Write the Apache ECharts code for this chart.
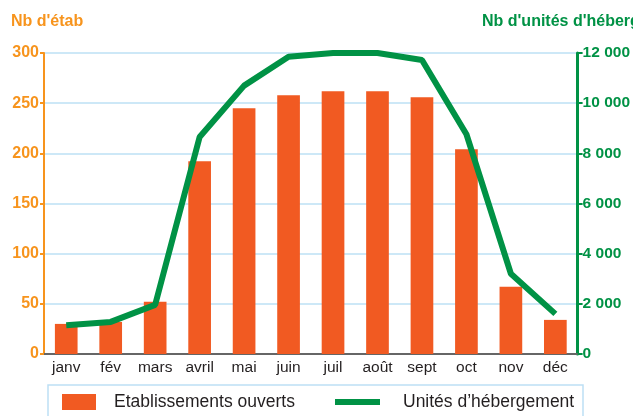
<!DOCTYPE html>
<html><head><meta charset="utf-8">
<script src="https://cdn.jsdelivr.net/npm/echarts@6/dist/echarts.min.js"></script>
<style>html,body{margin:0;padding:0;background:#fff}#c{width:633px;height:416px}</style>
</head><body><div id="c"></div>
<script>
const categories = ['janv','fév','mars','avril','mai','juin','juil','août','sept','oct','nov','déc'];
const etablissements = [30, 32, 52, 192, 245, 258, 262, 262, 256, 204, 67, 34];
const unites = [1150, 1280, 1960, 8650, 10700, 11850, 12000, 12000, 11720, 8760, 3200, 1600];
const leftTicks = [0, 50, 100, 150, 200, 250, 300];
const rightTicks = [0, 2000, 4000, 6000, 8000, 10000, 12000];

const ORANGE = '#F7941D', BAR = '#F15A22', GREEN = '#009245';
const FONT = '"Liberation Sans Narrow", "Liberation Sans", Arial, sans-serif';
const chart = echarts.init(document.getElementById('c'));
chart.setOption({
  animation: false,
  grid: {left: 44, right: 52, top: 53, bottom: 62},
  graphic: [
    {type: 'text', left: 11, top: 14, style: {text: "Nb d'étab", fill: ORANGE, font: 'bold 16px ' + FONT}},
    {type: 'text', left: 482, top: 14, style: {text: "Nb d'unités d'héberg", fill: GREEN, font: 'bold 16px ' + FONT}},
    {type: 'rect', shape: {x: 48, y: 385, width: 535, height: 40}, style: {fill: 'none', stroke: '#BDE0F5', lineWidth: 1.5}}
  ],
  legend: [
    {data: ['Etablissements ouverts'], left: 57, top: 388, itemWidth: 34, itemHeight: 16, icon: 'rect',
     textStyle: {fontFamily: FONT, fontSize: 17.5, color: '#231F20', padding: [0, 0, 0, 13]}},
    {data: ['Unités d’hébergement'], left: 330, top: 388, itemWidth: 45, itemHeight: 6, icon: 'rect',
     textStyle: {fontFamily: FONT, fontSize: 17.5, color: '#231F20', padding: [0, 0, 0, 18]}}
  ],
  xAxis: {
    type: 'category', data: categories,
    axisLine: {lineStyle: {color: '#666', width: 2}},
    axisTick: {show: false},
    axisLabel: {color: '#231F20', fontFamily: FONT, fontSize: 15.5, margin: 6, interval: 0}
  },
  yAxis: [
    {type: 'value', min: 0, max: 300, interval: 50, position: 'left',
     axisLine: {show: true, lineStyle: {color: ORANGE, width: 2}},
     axisTick: {show: true, length: 4, lineStyle: {color: ORANGE, width: 2}},
     axisLabel: {color: ORANGE, fontFamily: FONT, fontSize: 16, fontWeight: 'bold', margin: 5,
       formatter: v => leftTicks.includes(v) ? String(v) : ''},
     splitLine: {lineStyle: {color: '#BDE0F5', width: 1.5}}},
    {type: 'value', min: 0, max: 12000, interval: 2000, position: 'right',
     axisLine: {show: true, lineStyle: {color: GREEN, width: 3}},
     axisTick: {show: true, length: 5, lineStyle: {color: GREEN, width: 2}},
     axisLabel: {color: GREEN, fontFamily: FONT, fontSize: 15.5, fontWeight: 'bold', margin: 5,
       formatter: v => rightTicks.includes(v) ? (v >= 1000 ? Math.floor(v/1000) + ' 000' : String(v)) : ''},
     splitLine: {show: false}}
  ],
  series: [
    {name: 'Etablissements ouverts', type: 'bar', data: etablissements, barWidth: '51%',
     itemStyle: {color: BAR}, yAxisIndex: 0},
    {name: 'Unités d’hébergement', type: 'line', data: unites, yAxisIndex: 1,
     symbol: 'none', lineStyle: {color: GREEN, width: 6}, itemStyle: {color: GREEN}}
  ]
});
</script></body></html>
